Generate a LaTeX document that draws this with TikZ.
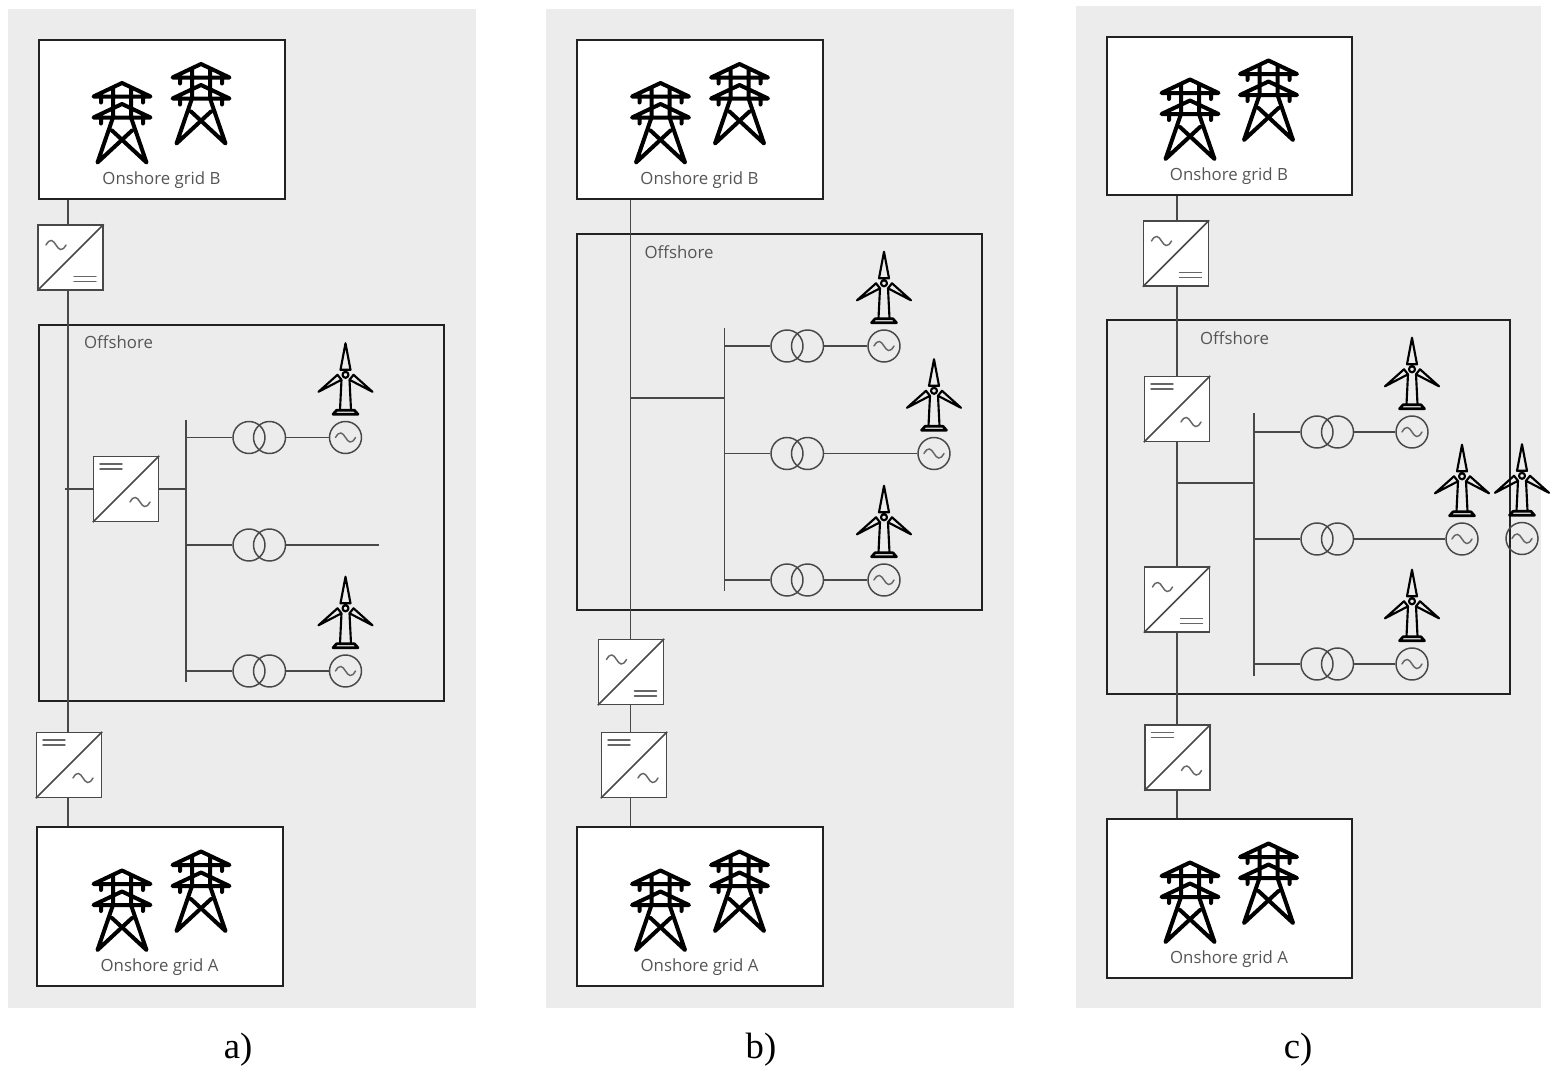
\documentclass[tikz,border=0pt]{standalone}
\usepackage{fontspec}
\setmainfont{Liberation Serif}
\newfontfamily\labelfont{Open Sans}
\tikzset{
  x=0.75pt,y=-0.75pt,
  panel/.style={fill=panelgray,draw=none},
  gridbox/.style={draw=boxblack,line width=1.5pt,fill=white,minimum width=184.5pt,minimum height=119pt,inner sep=0pt},
  offbox/.style={draw=boxblack,line width=1.5pt,inner sep=0pt},
  conv/.style={draw=wiregray,line width=1.1pt,fill=white,minimum size=48.75pt,inner sep=0pt},
  wire/.style={draw=wiregray,line width=1.1pt},
  bus/.style={draw=wiregray,line width=1.2pt},
  sym/.style={draw=symgray,line width=1.1pt,line cap=round},
  xf/.style={circle,draw=wiregray,line width=1.1pt,minimum size=24pt,inner sep=0pt},
  gen/.style={circle,draw=wiregray,line width=1.1pt,minimum size=24pt,inner sep=0pt},
  gridlabel/.style={font=\labelfont\fontsize{12.6}{14}\selectfont,text=labelgray,inner sep=0pt},
  caption/.style={font=\fontsize{27.5}{30}\selectfont,text=black,inner sep=0pt},
  wavesym/.pic={\draw[sym] (-10,0) .. controls (-6,-7) and (-3,-5) .. (0,0) .. controls (3,5) and (6,7) .. (10,0);},
  eqsym/.pic={\draw[sym] (-11,-2.5) -- (11,-2.5) (-11,2.5) -- (11,2.5);},
  tower/.pic={
    \draw[black,line width=3pt,line cap=round,line join=round]
      (-28.5,14) -- (0,0.5) -- (28.5,14) -- cycle
      (-28.5,35) -- (0,21.5) -- (28.5,35) -- cycle
      (-9,6) -- (-9,35) -- (-24.5,80) -- (10,48)
      (9,6) -- (9,35) -- (24.5,80) -- (-10,48)
      (-21,14) -- (-21,20) (21,14) -- (21,20)
      (-21,35) -- (-21,41) (21,35) -- (21,41);
  },
  turbine/.pic={
    \draw[black,line width=1.6pt,line join=round,line cap=round]
      (-5,-5) -- (0,-31.5) -- (5,-5) -- cycle
      (-8,0) -- (-27,17) -- (-4,5) -- cycle
      (8,0) -- (27,17) -- (4,5) -- cycle
      (0,0) circle (3)
      (-4,5) -- (-5.5,35) (4,5) -- (5.5,35);
    \draw[black,line width=2pt,line join=round]
      (-9,35.5) -- (9,35.5) -- (12.5,39.5) -- (-12.5,39.5) -- cycle;
  },
}
\definecolor{panelgray}{HTML}{ECECEC}
\definecolor{boxblack}{HTML}{222222}
\definecolor{wiregray}{HTML}{484848}
\definecolor{symgray}{HTML}{666666}
\definecolor{labelgray}{HTML}{555555}
% AC top-left, DC bottom-right
\newcommand\convAD[3]{%
  \node[conv] (#1) at (#2,#3) {};
  \draw[wire] (#1.south west) -- (#1.north east);
  \pic at (#2-14.5,#3-12.5) {wavesym};
  \pic at (#2+14.5,#3+21.5) {eqsym};
}
% DC top-left, AC bottom-right
\newcommand\convDA[3]{%
  \node[conv] (#1) at (#2,#3) {};
  \draw[wire] (#1.south west) -- (#1.north east);
  \pic at (#2-15,#3-22.5) {eqsym};
  \pic at (#2+14,#3+13) {wavesym};
}
\newcommand\gridbox[7]{% name x y label lx/ly offset towers
  \node[gridbox] (#1) at (#2,#3) {};
  \node[gridlabel] (#1l) at (#2-0.5,#3+60.5) {#4};
  \pic at (#5,#7) {tower};
  \pic at (#6,#7-19) {tower};
}
% generator with turbine above
\newcommand\genT[3]{%
  \node[gen] (#1) at (#2,#3) {};
  \pic at (#2,#3) {wavesym};
  \pic at (#2,#3-62.7) {turbine};
}
% branch: name, bus x, y, transformer x, generator x
\newcommand\branch[5]{%
  \coordinate (#1b) at (#2,#3);
  \node[xf] (#1p) at (#4,#3) {};
  \node[xf] (#1s) at (#4+20.5,#3) {};
  \genT{#1g}{#5}{#3}
  \draw[wire] (#1b) -- (#1p.west) (#1s.east) -- (#1g.west);
}
\begin{document}
\begin{tikzpicture}
\useasboundingbox (0,0) rectangle (1554,1092);
\fill[white] (0,0) rectangle (1554,1092);
% panels
\fill[panel] (8,9) rectangle (476,1008);
\fill[panel] (546,9) rectangle (1014,1008);
\fill[panel] (1076,6) rectangle (1541,1008);

% ---------- a ----------
\gridbox{aB}{162}{119.5}{Onshore grid B}{122}{201}{82.5}
\gridbox{aA}{160}{906.5}{Onshore grid A}{122}{201}{870}
\node[offbox,minimum width=303.75pt,minimum height=282pt] (aO) at (241.5,513) {};
\node[gridlabel] (aOl) at (118.5,342.5) {Offshore};
\convAD{aC1}{70.5}{257.5}
\convDA{aC2}{69}{765}
\convDA{aC3}{126}{489}
\coordinate (aV) at (68,500);
\coordinate (aS) at (65,489);
\coordinate (aBt) at (186,420);
\coordinate (aBb) at (186,682);
\draw[wire] (aB.south -| aV) -- (aC1.north -| aV);
\draw[wire] (aC1.south -| aV) -- (aC2.north -| aV);
\draw[wire] (aC2.south -| aV) -- (aA.north -| aV);
\draw[wire] (aS) -- (aC3.west);
\draw[wire] (aC3.east) -- (aC3.east -| aBt);
\draw[bus] (aBt) -- (aBb);
\branch{aa}{186}{437.5}{249}{345.5}
\coordinate (abb) at (186,545);
\coordinate (abe) at (379,545);
\node[xf] (abp) at (249,545) {};
\node[xf] (abs) at (269.5,545) {};
\draw[wire] (abb) -- (abp.west) (abs.east) -- (abe);
\branch{ac}{186}{671}{249}{345.5}

% ---------- b ----------
\gridbox{bB}{700}{119.5}{Onshore grid B}{660.5}{739.5}{82.5}
\gridbox{bA}{700}{906.5}{Onshore grid A}{660.5}{739.5}{870}
\node[offbox,minimum width=303.75pt,minimum height=282pt] (bO) at (779.5,422) {};
\node[gridlabel] (bOl) at (679,252.5) {Offshore};
\convAD{bC1}{631}{672}
\convDA{bC2}{634}{765}
\coordinate (bV) at (630.5,500);
\coordinate (bBt) at (724.5,328);
\coordinate (bBb) at (724.5,591);
\coordinate (bJ) at (724.5,398);
\draw[wire] (bB.south -| bV) -- (bC1.north -| bV);
\draw[wire] (bC1.south -| bV) -- (bC2.north -| bV);
\draw[wire] (bC2.south -| bV) -- (bA.north -| bV);
\draw[wire] (bJ -| bV) -- (bJ);
\draw[bus] (bBt) -- (bBb);
\branch{ba}{724.5}{346}{787}{884}
\branch{bb}{724.5}{453.5}{787}{934}
\branch{bc}{724.5}{580}{787}{884}

% ---------- c ----------
\tikzset{gridbox/.append style={minimum width=183.75pt}}
\gridbox{cB}{1229.5}{116}{Onshore grid B}{1190}{1268.5}{79}
\gridbox{cA}{1229.5}{898.5}{Onshore grid A}{1190}{1268.5}{862}
\node[offbox,minimum width=302.25pt,minimum height=280.5pt] (cO) at (1308.5,507) {};
\node[gridlabel] (cOl) at (1234.5,338) {Offshore};
\convAD{cC1}{1176}{253.5}
\convDA{cC2}{1177}{409}
\convAD{cC3}{1177}{599.5}
\convDA{cC4}{1177.5}{757.5}
\coordinate (cV) at (1177,500);
\coordinate (cBt) at (1254,413);
\coordinate (cBb) at (1254,676);
\coordinate (cJ) at (1254,483);
\draw[wire] (cB.south -| cV) -- (cC1.north -| cV);
\draw[wire] (cC1.south -| cV) -- (cC2.north -| cV);
\draw[wire] (cC2.south -| cV) -- (cC3.north -| cV);
\draw[wire] (cC3.south -| cV) -- (cC4.north -| cV);
\draw[wire] (cC4.south -| cV) -- (cA.north -| cV);
\draw[wire] (cJ -| cV) -- (cJ);
\draw[bus] (cBt) -- (cBb);
\branch{ca}{1254}{432}{1317}{1412}
\branch{cb}{1254}{539}{1317}{1462}
\branch{cc}{1254}{664}{1317}{1412}
\genT{cx}{1522}{538.5}

% captions
\node[caption] (capa) at (238,1050) {a)};
\node[caption] (capb) at (761,1050) {b)};
\node[caption] (capc) at (1298,1050) {c)};
\end{tikzpicture}
\end{document}
